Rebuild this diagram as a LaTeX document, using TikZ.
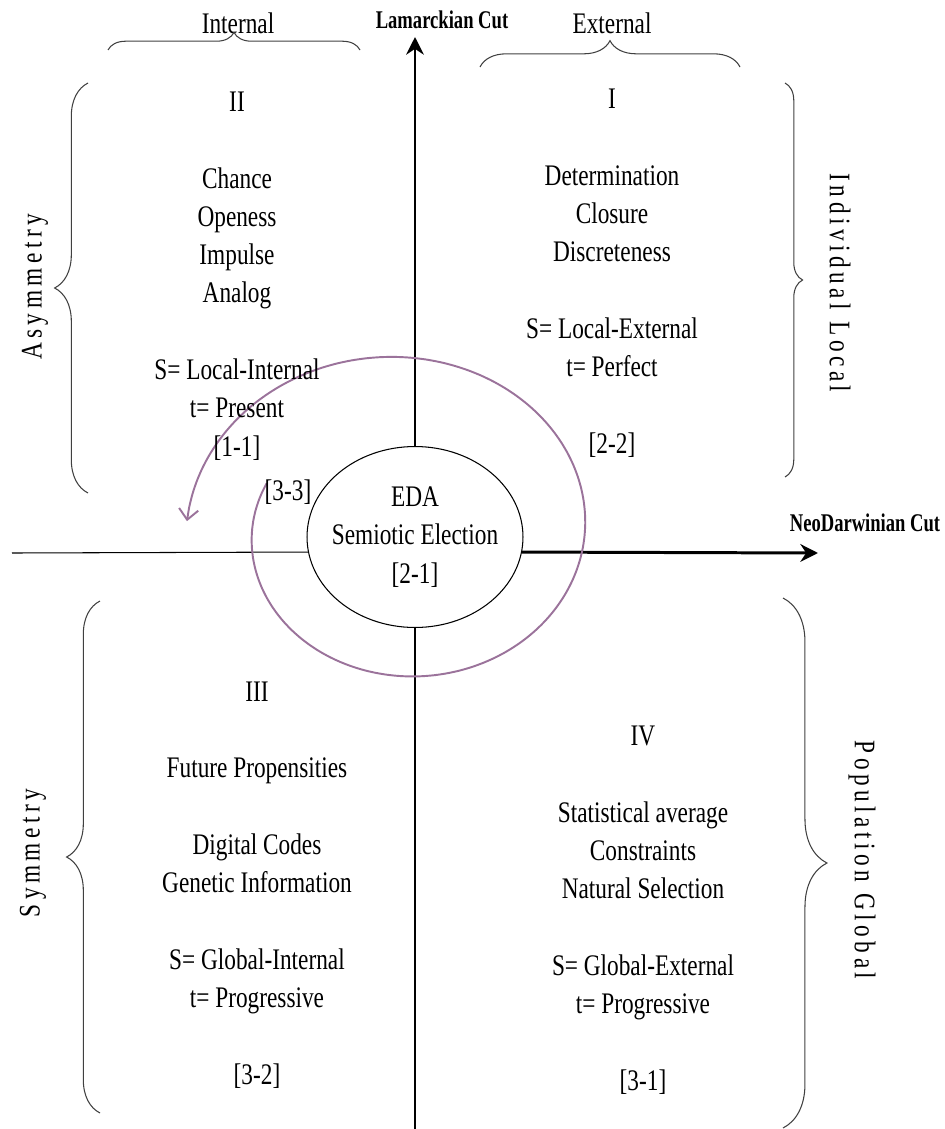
\documentclass[tikz,border=0pt]{standalone}
\usepackage{fontspec}
\setmainfont{Liberation Serif}[FakeStretch=0.78]
\newfontfamily\cutfont{Liberation Serif}[FakeStretch=0.73]
\usetikzlibrary{shapes.geometric,arrows.meta,decorations.pathreplacing}
\definecolor{spiralc}{RGB}{155,115,155}
\newcommand{\quadfont}{\fontsize{17}{21.8}\selectfont}
\newcommand{\ls}{\hspace{0.15em}}
\tikzset{
  quad/.style={align=center,font=\quadfont,inner sep=0pt},
  cut/.style={font=\cutfont\fontsize{14.5}{16}\selectfont\bfseries,inner sep=0pt},
  side/.style={font=\fontsize{17}{19}\selectfont,inner sep=0pt},
  cutarrow/.style={line width=1.7pt,-{Stealth[length=10pt,width=10pt]}},
  cutline/.style={line width=0.6pt},
  curly/.style={line width=0.6pt,draw=black!75,decorate,decoration={brace,amplitude=#1}},
  spiral/.style={line width=1.1pt,draw=spiralc,-{Straight Barb[length=6pt,width=11pt]}}
}
\begin{document}
\begin{tikzpicture}[x=0.02cm,y=-0.02cm]
\pgfmathsetmacro{\cx}{415}
\pgfmathsetmacro{\cy}{553}
\useasboundingbox (0,0) rectangle (945,1129);
%centre
\node[ellipse,draw,line width=0.6pt,minimum width=4.32cm,minimum height=3.62cm,inner sep=0pt] (eda) at (\cx,537) {};
\node[quad] (edatxt) at (eda.center) {EDA\\Semiotic Election\\{[2-1]}};
\coordinate (lamtip) at (\cx,37);
\coordinate (neotip) at (818,\cy);
\coordinate (wend) at (12,\cy);
\coordinate (send) at (\cx,1129);
%cuts
\draw[cutarrow] (eda.north) -- (lamtip);
\draw[cutarrow] (eda.-8.6) -- (neotip);
\draw[cutline] (eda.188.6) -- (wend);
\draw[cutline] (eda.south) -- (send);
\node[cut] (lam) at (442,20) {Lamarckian Cut};
\node[cut] (neo) at (865,523) {NeoDarwinian Cut};
%spiral
\draw[spiral] plot[domain=158:537,samples=90,smooth,variable=\t]
  ({402+(150+0.183*(\t-180))*cos(\t)},{531-0.872*(150+0.183*(\t-180))*sin(\t)});
\node[quad] (k33) at (288,492) {{[3-3]}};
%quadrants
\node[quad] (q2) at (237,276) {II\\[21.8pt]Chance\\Openess\\Impulse\\Analog\\[21.8pt]S= Local-Internal\\t= Present\\{[1-1]}};
\node[quad] (q1) at (612,273) {I\\[21.8pt]Determination\\Closure\\Discreteness\\[21.8pt]S= Local-External\\t= Perfect\\[21.8pt]{[2-2]}};
\node[quad] (q3) at (257,885) {III\\[21.8pt]Future Propensities\\[21.8pt]Digital Codes\\Genetic Information\\[21.8pt]S= Global-Internal\\t= Progressive\\[21.8pt]{[3-2]}};
\node[quad] (q4) at (643,910) {IV\\[21.8pt]Statistical average\\Constraints\\Natural Selection\\[21.8pt]S= Global-External\\t= Progressive\\[21.8pt]{[3-1]}};
%braces
\node[quad] (int) at (238,23) {Internal};
\node[quad] (ext) at (612,23) {External};
\draw[curly=10pt] (108,50) -- (360,50);
\draw[curly=15pt] (480,67) -- (740,67);
\draw[curly=19pt] (88,493) -- (88,83);
\draw[curly=10pt] (785,83) -- (785,477);
\draw[curly=19pt] (100,1113) -- (100,601);
\draw[curly=25pt] (783,598) -- (783,1128);
\node[side,rotate=90] (asym) at (35,287) {A\ls s\ls y\ls m\ls m\ls e\ls t\ls r\ls y};
\node[side,rotate=-90] (indl) at (840,283) {I\ls n\ls d\ls i\ls v\ls i\ls d\ls u\ls a\ls l\ \ L\ls o\ls c\ls a\ls l};
\node[side,rotate=90] (sym) at (33,853) {S\ls y\ls m\ls m\ls e\ls t\ls r\ls y};
\node[side,rotate=-90] (popg) at (862,860) {P\ls o\ls p\ls u\ls l\ls a\ls t\ls i\ls o\ls n\ \ G\ls l\ls o\ls b\ls a\ls l};
\end{tikzpicture}
\end{document}
